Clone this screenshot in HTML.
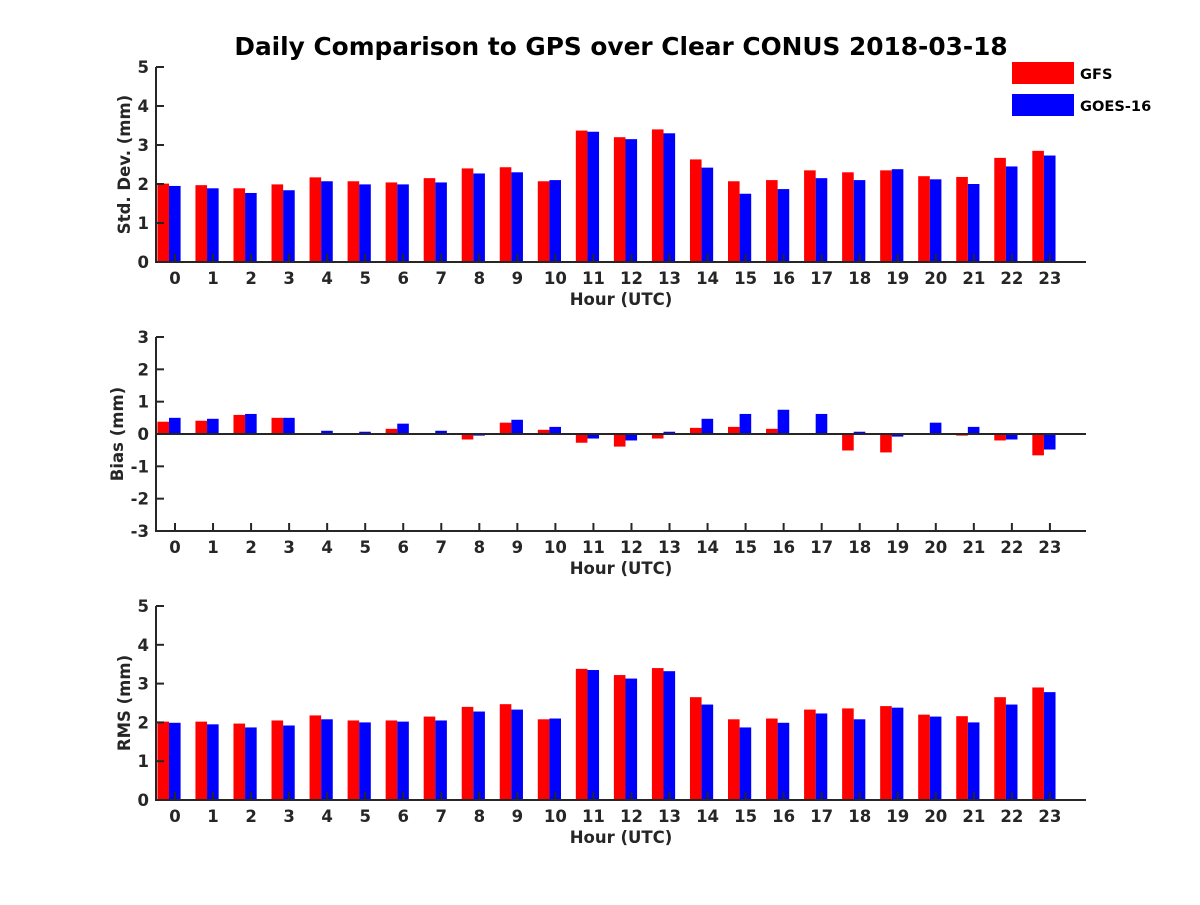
<!DOCTYPE html>
<html><head><meta charset="utf-8"><style>
body{margin:0;background:#fff}
svg text{font-family:"DejaVu Sans","Liberation Sans",sans-serif;font-weight:bold;fill:#262626}
</style></head><body>
<svg id="c" width="1200" height="900" viewBox="0 0 1200 900">
<text x="621" y="55" text-anchor="middle" font-size="24.8" style="fill:#000">Daily Comparison to GPS over Clear CONUS 2018-03-18</text>
<g>
<rect x="1012" y="62" width="62" height="22" fill="#ff0000"/>
<text x="1080" y="79" font-size="14.6" style="fill:#000">GFS</text>
<rect x="1012" y="94" width="62" height="22" fill="#0000ff"/>
<text x="1080" y="111" font-size="14.6" style="fill:#000">GOES-16</text>
</g>
</svg>
<script>
const hours=[0,1,2,3,4,5,6,7,8,9,10,11,12,13,14,15,16,17,18,19,20,21,22,23];
const stdGFS=[2.01,1.97,1.89,1.99,2.17,2.07,2.04,2.15,2.40,2.43,2.07,3.37,3.20,3.40,2.63,2.07,2.10,2.35,2.30,2.35,2.20,2.18,2.67,2.85];
const stdGOES=[1.95,1.89,1.77,1.84,2.07,1.99,1.99,2.04,2.27,2.30,2.10,3.34,3.15,3.30,2.42,1.75,1.87,2.15,2.10,2.38,2.12,2.00,2.45,2.73];
const biasGFS=[0.38,0.41,0.59,0.50,0,0,0.16,0,-0.17,0.35,0.13,-0.27,-0.39,-0.14,0.19,0.22,0.16,0,-0.51,-0.57,0,-0.05,-0.20,-0.66];
const biasGOES=[0.50,0.47,0.62,0.50,0.10,0.07,0.32,0.10,-0.05,0.44,0.22,-0.14,-0.20,0.07,0.47,0.62,0.75,0.62,0.07,-0.08,0.35,0.22,-0.17,-0.48];
const rmsGFS=[2.02,2.02,1.97,2.05,2.18,2.05,2.05,2.15,2.40,2.47,2.08,3.38,3.22,3.40,2.65,2.08,2.10,2.33,2.36,2.42,2.20,2.16,2.65,2.90];
const rmsGOES=[1.99,1.95,1.87,1.92,2.08,2.00,2.02,2.05,2.28,2.33,2.10,3.35,3.13,3.32,2.46,1.87,1.99,2.23,2.08,2.38,2.15,2.00,2.46,2.78];
const stdTicks=[0,1,2,3,4,5], biasTicks=[-3,-2,-1,0,1,2,3], rmsTicks=[0,1,2,3,4,5];
const svg=document.getElementById('c');const NS='http://www.w3.org/2000/svg';
function mk(t,a,p){const e=document.createElementNS(NS,t);for(const k in a)e.setAttribute(k,a[k]);(p||svg).appendChild(e);return e;}
const X0=156,X1=1086,FS=16.5;
function xs(h){return 175+38.04*h;}
function panel(name,top,bot,ymin,ymax,ticks,ylabel,ylx,a,b){
  const g=mk('g',{});
  
  
  const ys=v=>bot-(v-ymin)/(ymax-ymin)*(bot-top);
  const base=ys(Math.max(ymin,0));
  const bw=11.6;
  hours.forEach((h,i)=>{
    const c=xs(h)-6;
    [[a[i],'#ff0000',c-bw,'gfs'],[b[i],'#0000ff',c,'goes']].forEach(([v,col,x,s])=>{
      const y=ys(v);
      const r=mk('rect',{x:x,y:Math.min(y,base),width:bw,height:Math.abs(y-base),fill:col},g);
      
      
    });
  });
  if(ymin<0){const z=mk('line',{x1:X0,x2:X1,y1:base,y2:base,stroke:'#262626','stroke-width':2},g);
    }
  const ax=mk('path',{d:`M${X0},${top}V${bot}H${X1}`,fill:'none',stroke:'#262626','stroke-width':2},g);
  
  ticks.forEach(t=>{const y=ys(t);
    mk('line',{x1:X0,x2:X0+8,y1:y,y2:y,stroke:'#262626','stroke-width':2},g);
    const tx=mk('text',{x:X0-7,y:y+6,'text-anchor':'end','font-size':FS},g);tx.textContent=t;
    });
  hours.forEach(h=>{const x=xs(h);
    mk('line',{x1:x,x2:x,y1:bot,y2:bot-8,stroke:'#262626','stroke-width':2},g);
    const tx=mk('text',{x:x,y:bot+22,'text-anchor':'middle','font-size':FS},g);tx.textContent=h;
    });
  const xl=mk('text',{x:621,y:bot+43,'text-anchor':'middle','font-size':FS},g);xl.textContent='Hour (UTC)';
  
  const cy=(top+bot)/2;
  const yl=mk('text',{x:0,y:0,'text-anchor':'middle','font-size':FS,transform:`translate(${ylx},${cy}) rotate(-90)`},g);yl.textContent=ylabel;
  
}
panel('std-dev',67,262,0,5,stdTicks,'Std. Dev. (mm)',130,stdGFS,stdGOES);
panel('bias',337,531,-3,3,biasTicks,'Bias (mm)',123,biasGFS,biasGOES);
panel('rms',606,800,0,5,rmsTicks,'RMS (mm)',130,rmsGFS,rmsGOES);
</script>
</body></html>
